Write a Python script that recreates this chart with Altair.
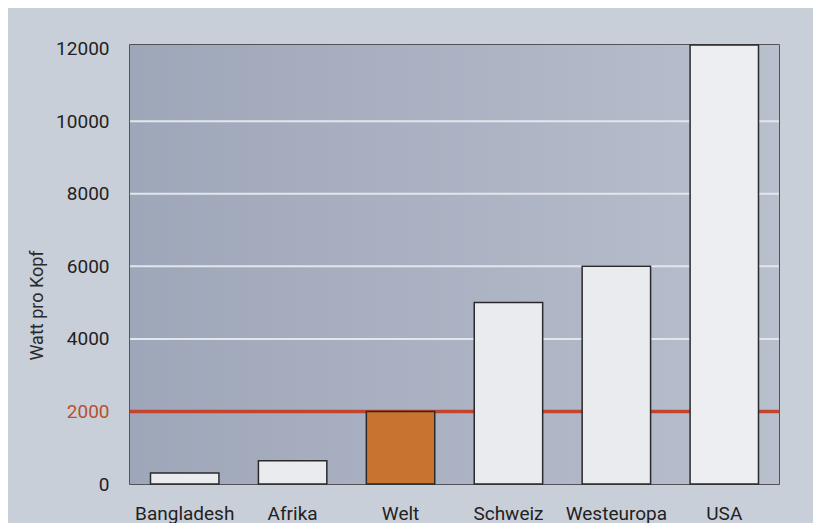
import altair as alt
import pandas as pd

# Data
categories = ["Bangladesh", "Afrika", "Welt", "Schweiz", "Westeuropa", "USA"]
watt_pro_kopf = [300, 640, 2000, 5000, 6000, 12100]
bar_colors = ["#e9ebef", "#e9ebef", "#c8732f", "#e9ebef", "#e9ebef", "#eceef1"]
y_ticks = [0, 2000, 4000, 6000, 8000, 10000, 12000]
grid_values = [4000, 6000, 8000, 10000]
target_value = [2000]

df = pd.DataFrame({"Land": categories, "Watt": watt_pro_kopf, "Farbe": bar_colors})
grid_df = pd.DataFrame({"Watt": grid_values})
target_df = pd.DataFrame({"Watt": target_value})

FONT = "Roboto"

y_scale = alt.Scale(domain=[0, 12100], nice=False)

background = alt.Chart(df).mark_rect(
    color=alt.LinearGradient(
        gradient="linear",
        stops=[
            alt.GradientStop(color="#9ea6b9", offset=0),
            alt.GradientStop(color="#b8bfcd", offset=1),
        ],
        x1=0, x2=1, y1=0, y2=0,
    )
).encode(
    x=alt.value(0), x2=alt.value("width"), y=alt.value(0), y2=alt.value("height")
)

grid = alt.Chart(grid_df).mark_rule(color="#e3e6ed", strokeWidth=2).encode(
    y=alt.Y("Watt:Q", scale=y_scale)
)

target = alt.Chart(target_df).mark_rule(color="#c4452e", strokeWidth=3.5).encode(
    y=alt.Y("Watt:Q", scale=y_scale)
)

bars = alt.Chart(df).mark_bar(stroke="#2a2a2a", strokeWidth=1.5).encode(
    x=alt.X(
        "Land:N",
        sort=categories,
        scale=alt.Scale(paddingInner=0.366, paddingOuter=0.19),
        axis=alt.Axis(
            title=None,
            labelAngle=0,
            ticks=False,
            domain=False,
            labelPadding=20,
            labelFontSize=19,
            labelFont=FONT,
            labelColor="#222222",
        ),
    ),
    y=alt.Y(
        "Watt:Q",
        scale=y_scale,
        axis=alt.Axis(
            title="Watt pro Kopf",
            values=y_ticks,
            format="d",
            ticks=False,
            domain=False,
            grid=False,
            labelPadding=21,
            labelFontSize=19,
            labelFont=FONT,
            labelColor={"expr": "datum.value == 2000 ? '#b8502f' : '#222222'"},
            titleFont=FONT,
            titleFontSize=18,
            titleFontWeight="normal",
            titleColor="#2a2a2a",
            titleAngle=-90,
            titleAlign="center",
            titleBaseline="alphabetic",
            titleX=-88,
            titleY=260,
        ),
    ),
    color=alt.Color("Farbe:N", scale=None, legend=None),
)

chart = alt.layer(background, grid, target, bars).properties(
    width=649,
    height=439,
    autosize=alt.AutoSizeParams(type="none"),
    padding={"left": 122, "top": 37, "right": 34, "bottom": 39},
    background="#c9cfd9",
).configure_view(
    stroke="#2b2b2b",
    strokeWidth=1.5,
)

chart.save("out.html", embed_options={"renderer": "svg", "actions": False})
